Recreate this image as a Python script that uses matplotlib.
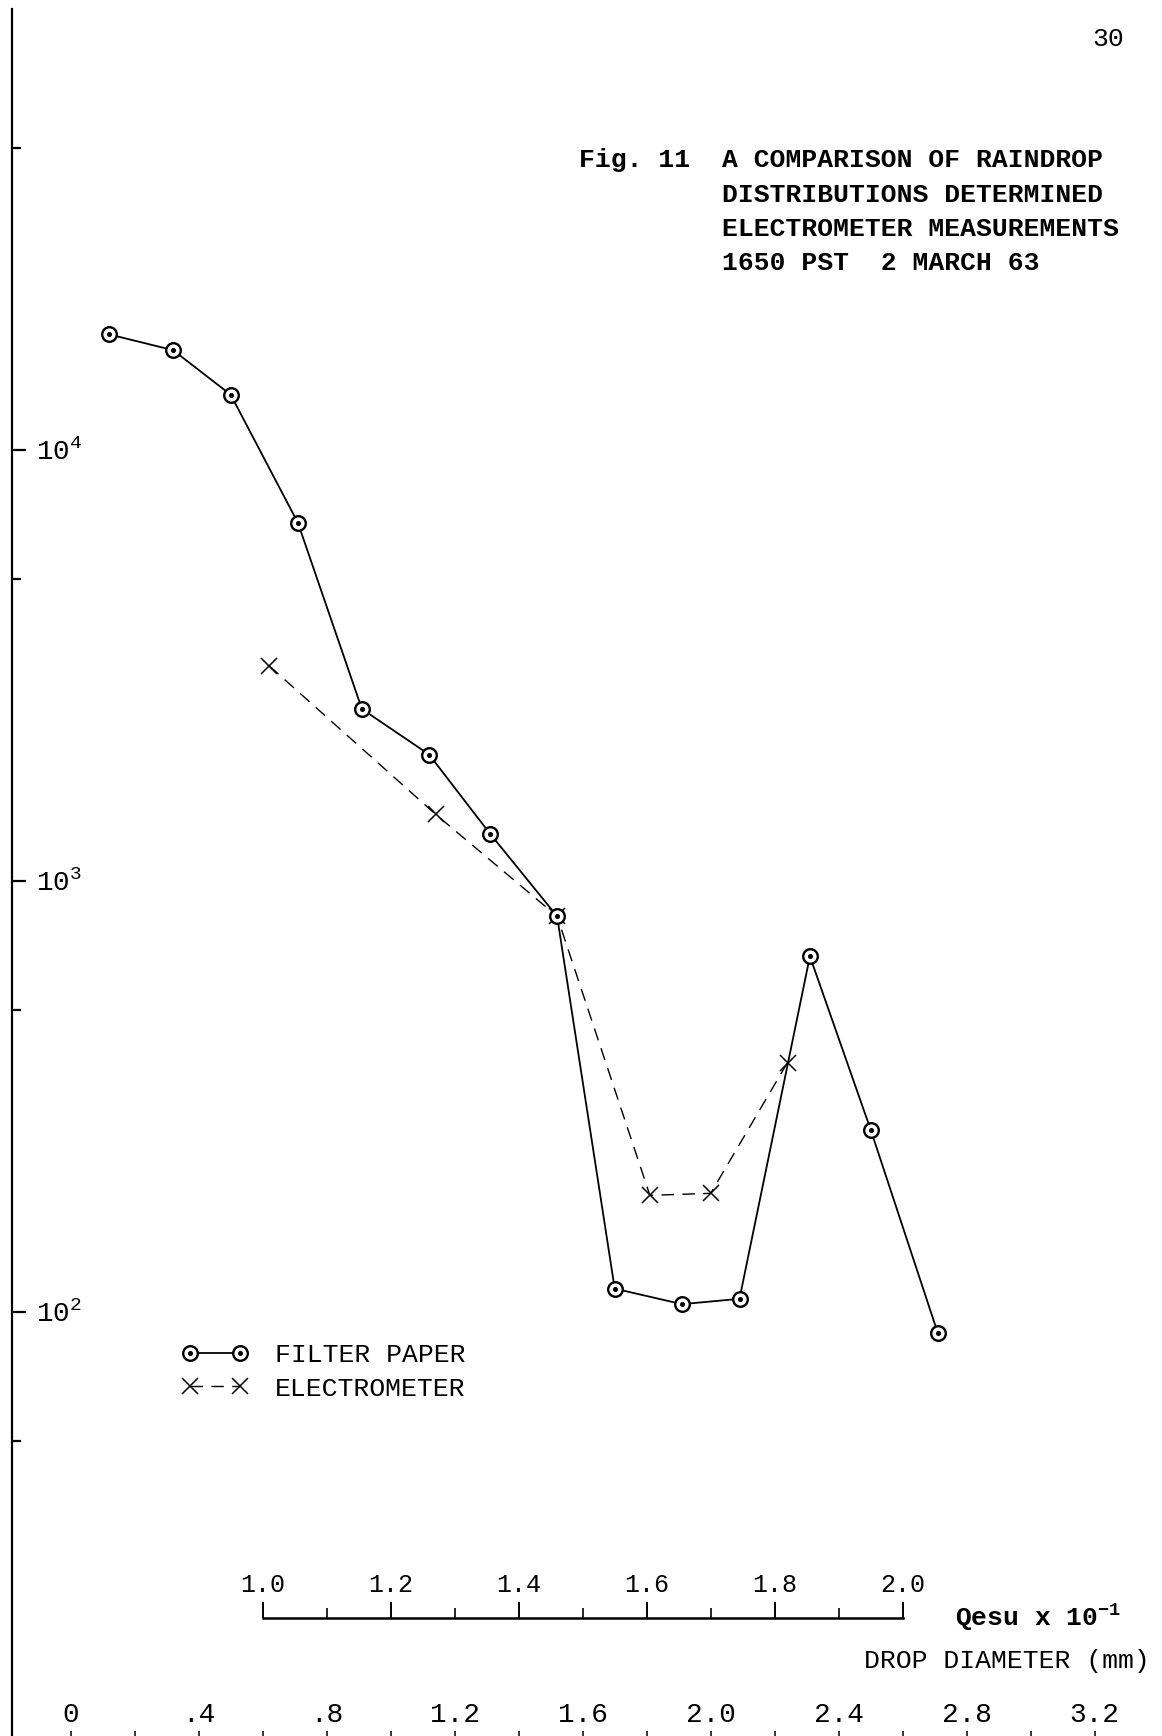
import numpy as np
import matplotlib.pyplot as plt
from matplotlib.legend_handler import HandlerTuple

plt.rcParams['font.family'] = ['Liberation Mono', 'DejaVu Sans Mono']
plt.rcParams['mathtext.fontset'] = 'custom'
plt.rcParams['mathtext.rm'] = 'Liberation Mono'
plt.rcParams['mathtext.it'] = 'Liberation Mono'
plt.rcParams['mathtext.bf'] = 'Liberation Mono:bold'

# filter paper counts vs drop diameter (mm)
filter_d = [0.12, 0.32, 0.50, 0.71, 0.91, 1.12, 1.31, 1.52, 1.70, 1.91, 2.09, 2.31, 2.50, 2.71]
filter_n = [18500, 17000, 13400, 6760, 2500, 1960, 1285, 826, 113, 104, 107, 667, 264, 89]

# electrometer counts vs drop diameter (mm)
elec_d = [0.62, 1.14, 1.52, 1.81, 2.00, 2.24]
elec_n = [3150, 1425, 826, 186, 188, 378]

diam_ticks = [0, 0.4, 0.8, 1.2, 1.6, 2.0, 2.4, 2.8, 3.2]
diam_labels = ['0', '.4', '.8', '1.2', '1.6', '2.0', '2.4', '2.8', '3.2']
diam_minor = [0.2, 0.6, 1.0, 1.4, 1.8, 2.2, 2.6, 3.0]

q_ticks = [1.0, 1.2, 1.4, 1.6, 1.8, 2.0]
q_labels = ['1.0', '1.2', '1.4', '1.6', '1.8', '2.0']
q_minor = [1.1, 1.3, 1.5, 1.7, 1.9]

y_ticks = [1e2, 1e3, 1e4]
y_labels = [r'$10^2$', r'$10^3$', r'$10^4$']
y_minor = [50, 500, 5000, 50000]

title_lines = ['A COMPARISON OF RAINDROP',
               'DISTRIBUTIONS DETERMINED',
               'ELECTROMETER MEASUREMENTS',
               '1650 PST  2 MARCH 63']

W, H = 1162, 1736
fig = plt.figure(figsize=(W / 100, H / 100), dpi=100)

# main axes: left spine at x=11.5px, bottom spine just below the page edge
x_sp, y_sp = 11.5, 1745
ax = fig.add_axes([x_sp / W, (H - y_sp) / H, 1 - x_sp / W, y_sp / H])
ax.patch.set_visible(False)
ax.set_yscale('log')
ax.set_xlim((x_sp - 70.7) / 320, (W - 70.7) / 320)
ax.set_ylim(10 ** (4 - (y_sp - 449.5) / 431), 10 ** (4 + 449.5 / 431))
for s in ['top', 'right']:
    ax.spines[s].set_visible(False)
ax.spines['left'].set_linewidth(1.6)
ax.spines['bottom'].set_linewidth(1.2)
ax.spines['left'].set_bounds(ax.get_ylim()[0], 10 ** (4 + 441 / 431))

ax.set_yticks(y_ticks)
ax.set_yticklabels(y_labels)
ax.set_yticks(y_minor, minor=True)
ax.yaxis.set_minor_formatter(plt.NullFormatter())
ax.tick_params(axis='y', which='major', direction='in', length=10, width=1.6,
               pad=-17.5, labelsize=20)
ax.tick_params(axis='y', which='minor', direction='in', length=6.5, width=1.6)
plt.setp(ax.get_yticklabels(), ha='left', va='center_baseline')

ax.set_xticks(diam_ticks)
ax.set_xticklabels(diam_labels)
ax.set_xticks(diam_minor, minor=True)
ax.tick_params(axis='x', which='both', direction='in', length=10, width=1.1,
               pad=-12.5, labelsize=20)
plt.setp(ax.get_xticklabels(), va='bottom')

# data
fp_line, = ax.plot(filter_d, filter_n, color='k', lw=1.3, marker='o', ms=10.5,
                   mfc='white', mec='k', mew=1.7, zorder=3)
fp_dot, = ax.plot(filter_d, filter_n, ls='none', marker='o', ms=2.6,
                  color='k', zorder=4)
el_line, = ax.plot(elec_d, elec_n, color='k', lw=1.0, ls=(0, (9, 6)),
                   marker='x', ms=11, mew=1.1, zorder=2)

ax.legend([(fp_line, fp_dot), el_line], ['FILTER PAPER', 'ELECTROMETER'],
          handler_map={tuple: HandlerTuple()}, numpoints=2, frameon=False,
          fontsize=19, handlelength=2.49, handletextpad=1.02, labelspacing=0.35,
          loc='center left', bbox_to_anchor=(182 / W, 1 - 1372 / H),
          bbox_transform=fig.transFigure, borderpad=0, borderaxespad=0)

# Qesu scale
qax = fig.add_axes([262.7 / W, (H - 1618) / H, 640 / W, 0.0001])
qax.patch.set_visible(False)
qax.set_xlim(1.0, 2.0)
for s in ['left', 'right', 'bottom']:
    qax.spines[s].set_visible(False)
qax.spines['top'].set_linewidth(1.8)
qax.yaxis.set_visible(False)
qax.xaxis.set_ticks_position('top')
qax.set_xticks(q_ticks)
qax.set_xticklabels(q_labels)
qax.set_xticks(q_minor, minor=True)
qax.tick_params(axis='x', which='major', direction='out', length=11.5, width=1.4,
                pad=3.5, labelsize=18, top=True, labeltop=True,
                bottom=False, labelbottom=False)
qax.tick_params(axis='x', which='minor', direction='out', length=7, width=1.2,
                top=True, bottom=False)

fig.text(955 / W, 1 - 1618 / H, r'Qesu x $\mathbf{10}^{\mathbf{-1}}$',
         fontsize=19, fontweight='bold', ha='left', va='center')
fig.text(1150 / W, 1 - 1661 / H, 'DROP DIAMETER (mm)', fontsize=19,
         ha='right', va='center')

# page number and caption
fig.text(1092 / W, 1 - 39 / H, '30', fontsize=19, ha='left', va='center')
fig.text(579 / W, 1 - 160 / H, 'Fig. 11', fontsize=19, fontweight='bold',
         ha='left', va='center')
for i, line in enumerate(title_lines):
    fig.text(722 / W, 1 - (160 + 34.5 * i) / H, line, fontsize=19,
             fontweight='bold', ha='left', va='center')

fig.savefig('out.png', dpi=100)
